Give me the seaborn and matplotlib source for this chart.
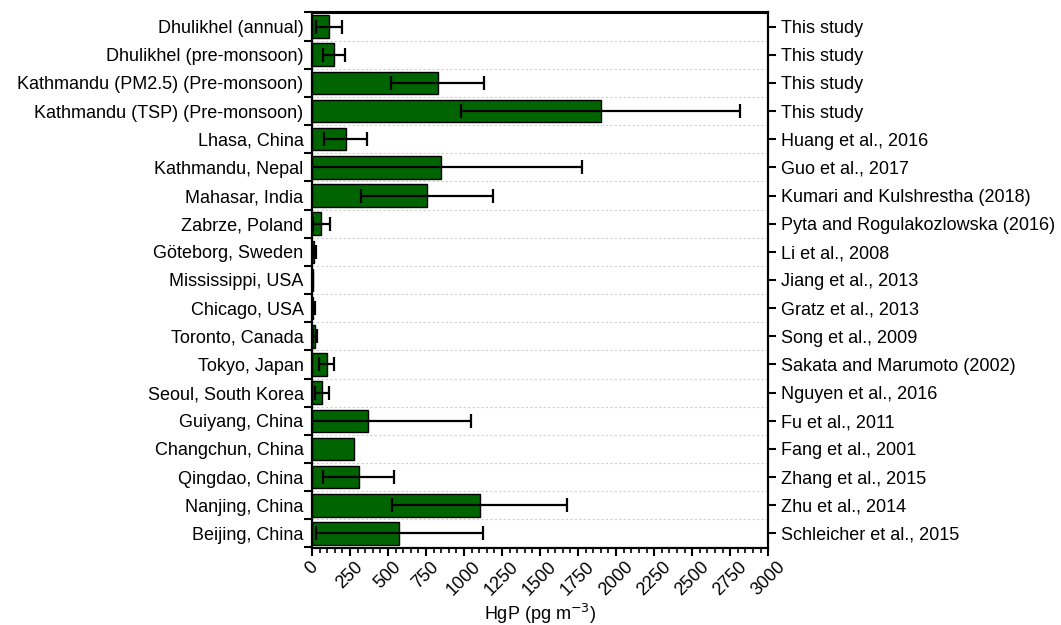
import matplotlib
matplotlib.use("Agg")
import matplotlib.pyplot as plt
from matplotlib.ticker import MultipleLocator, FixedLocator
import numpy as np
import pandas as pd
import seaborn as sns

# Particulate-bound mercury (HgP) at sites worldwide, mean and standard deviation
sites = [
    "Dhulikhel (annual)",
    "Dhulikhel (pre-monsoon)",
    "Kathmandu (PM2.5) (Pre-monsoon)",
    "Kathmandu (TSP) (Pre-monsoon)",
    "Lhasa, China",
    "Kathmandu, Nepal",
    "Mahasar, India",
    "Zabrze, Poland",
    "Göteborg, Sweden",
    "Mississippi, USA",
    "Chicago, USA",
    "Toronto, Canada",
    "Tokyo, Japan",
    "Seoul, South Korea",
    "Guiyang, China",
    "Changchun, China",
    "Qingdao, China",
    "Nanjing, China",
    "Beijing, China",
]
references = [
    "This study",
    "This study",
    "This study",
    "This study",
    "Huang et al., 2016",
    "Guo et al., 2017",
    "Kumari and Kulshrestha (2018)",
    "Pyta and Rogulakozlowska (2016)",
    "Li et al., 2008",
    "Jiang et al., 2013",
    "Gratz et al., 2013",
    "Song et al., 2009",
    "Sakata and Marumoto (2002)",
    "Nguyen et al., 2016",
    "Fu et al., 2011",
    "Fang et al., 2001",
    "Zhang et al., 2015",
    "Zhu et al., 2014",
    "Schleicher et al., 2015",
]
hgp_mean = [110, 143, 828, 1898, 222, 851, 756, 62, 15, 5, 8, 20, 97, 66, 368, 274, 307, 1102, 574]
hgp_sd = [86, 73, 305, 920, 140, 927, 436, 54, 10, 3, 15, 13, 49, 46, 675, 0, 231, 575, 550]

df = pd.DataFrame({"site": sites, "ref": references, "mean": hgp_mean, "sd": hgp_sd})

sns.set_style("white")
plt.rcParams["font.family"] = ["Liberation Sans", "DejaVu Sans"]
plt.rcParams["text.color"] = "black"
plt.rcParams["axes.labelcolor"] = "black"
plt.rcParams["xtick.color"] = "black"
plt.rcParams["ytick.color"] = "black"

FS = 13

fig = plt.figure(figsize=(10.61, 6.25), dpi=100)
ax = fig.add_axes([0.294, 0.124, 0.430, 0.856])

sns.barplot(data=df, x="mean", y="site", orient="h", color="#006400",
            saturation=1, edgecolor="black", linewidth=1.0, width=0.8, ax=ax)

ypos = np.arange(len(sites))
has_err = df["sd"].to_numpy() > 0
ax.errorbar(df["mean"][has_err], ypos[has_err], xerr=df["sd"][has_err],
            fmt="none", ecolor="black", elinewidth=1.6, capsize=5, capthick=1.6,
            zorder=5)

ax.set_xlim(0, 3000)
ax.set_ylim(len(sites) - 0.5, -0.5)
ax.xaxis.set_major_locator(MultipleLocator(250))
ax.xaxis.set_minor_locator(MultipleLocator(50))
ax.set_xticklabels([str(int(v)) for v in ax.get_xticks()], rotation=45, ha="center", fontsize=FS)
ax.set_xlabel("HgP (pg m$^{-3}$)", fontsize=FS, labelpad=2)
ax.set_ylabel("")

# Category boundaries carry the left-hand ticks and the dotted separators
ax.yaxis.set_minor_locator(FixedLocator(np.arange(len(sites) + 1) - 0.5))
ax.tick_params(axis="y", which="major", length=0, labelsize=FS, pad=6)
ax.tick_params(axis="y", which="minor", length=6, width=1.5, color="black", left=True)
ax.tick_params(axis="x", which="major", length=6, width=1.5, color="black", bottom=True, pad=2)
ax.tick_params(axis="x", which="minor", length=3.5, width=1.2, color="black", bottom=True)
ax.grid(axis="y", which="minor", linestyle=(0, (2, 2)), color="#d0d0d0", linewidth=0.8)
ax.set_axisbelow(True)

for side in ["left", "right", "top", "bottom"]:
    ax.spines[side].set_visible(True)
    ax.spines[side].set_color("black")
    ax.spines[side].set_linewidth(1.5)

# Reference labels along the right-hand axis
ax2 = ax.twinx()
ax2.set_ylim(ax.get_ylim())
ax2.set_yticks(ypos)
ax2.set_yticklabels(references, fontsize=FS)
ax2.tick_params(axis="y", which="major", length=6, width=1.5, color="black", right=True, pad=3)
for side in ["left", "right", "top", "bottom"]:
    ax2.spines[side].set_linewidth(1.5)
    ax2.spines[side].set_color("black")

fig.savefig("out.png", dpi=100)
